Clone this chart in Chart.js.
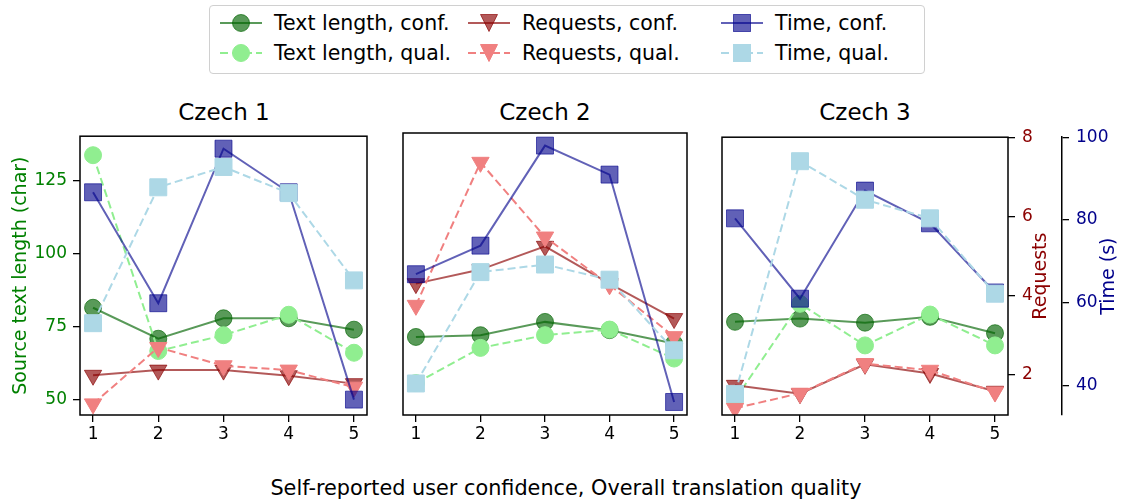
<!DOCTYPE html>
<html>
<head>
<meta charset="utf-8">
<script src="https://cdn.jsdelivr.net/npm/chart.js@4"></script>
<style>
  body { margin: 0; background: #fff; width: 1122px; height: 501px; position: relative; overflow: hidden; font-family: "DejaVu Sans", sans-serif; }
  canvas { position: absolute; }
  .ptitle { position: absolute; top: 98px; width: 288px; text-align: center; font-size: 23px; line-height: 28px; color: #000; }
  #xlabel { position: absolute; left: 0; width: 1132px; top: 476px; text-align: center; font-size: 20.8px; line-height: 24px; color: #000; }
  #legend { position: absolute; left: 209px; top: 5px; width: 714px; height: 67px; border: 1px solid #d0d0d0; border-radius: 4px; }
  #legend span { position: absolute; font-size: 20.5px; line-height: 24px; white-space: nowrap; color: #000; }
  #legend svg { position: absolute; left: 0; top: 0; }
</style>
</head>
<body>
<div id="legend"></div>
<div class="ptitle" style="left:80px">Czech 1</div>
<div class="ptitle" style="left:401px">Czech 2</div>
<div class="ptitle" style="left:721px">Czech 3</div>
<canvas id="c1" width="380" height="340" style="left:0px;top:120px"></canvas>
<canvas id="c2" width="310" height="340" style="left:390px;top:120px"></canvas>
<canvas id="c3" width="422" height="340" style="left:700px;top:120px"></canvas>
<div id="xlabel">Self-reported user confidence, Overall translation quality</div>

<script>
// Data, one row per panel (Czech 1, Czech 2, Czech 3)
const categories = [1, 2, 3, 4, 5];
const textConf = [
  [81.4, 70.8, 77.8, 77.8, 73.9],
  [71.1, 71.7, 76.2, 73.4, 68.9],
  [76.7, 77.8, 76.4, 78.4, 72.8]
];
const textQual = [
  [133.6, 66.6, 72.0, 79.0, 66.0],
  [55.5, 67.4, 71.7, 73.6, 63.8],
  [50.0, 82.9, 68.6, 79.2, 68.6]
];
const requestsConf = [
  [1.98, 2.11, 2.11, 1.97, 1.77],
  [4.25, 4.60, 5.18, 4.25, 3.38],
  [1.73, 1.52, 2.26, 2.03, 1.58]
];
const requestsQual = [
  [1.26, 2.68, 2.22, 2.11, 1.68],
  [3.71, 7.27, 5.41, 4.22, 2.93],
  [1.15, 1.53, 2.28, 2.11, 1.56]
];
const timeConf = [
  [86.5, 59.8, 97.0, 86.5, 36.6],
  [66.4, 73.2, 97.0, 90.1, 36.0],
  [80.4, 61.0, 87.1, 79.2, 62.5]
];
const timeQual = [
  [55.0, 87.7, 92.6, 86.3, 65.3],
  [40.4, 66.9, 68.7, 65.1, 48.3],
  [38.0, 94.2, 84.9, 80.4, 62.2]
];
const textTicks = [50, 75, 100, 125];
const requestTicks = [2, 4, 6, 8];
const timeTicks = [40, 60, 80, 100];
const textRange = [44.7, 140.1];
const requestRange = [0.98, 8.0];
const timeRange = [32.9, 100];

const FAMILY = '"DejaVu Sans", sans-serif';

// Series styles: [label, data, axis, colour, marker, radius, dashed]
const seriesDefs = [
  ['Text length, conf.', textConf, 'yText', 'rgba(0,100,0,0.65)', 'circle', 8.5, false],
  ['Text length, qual.', textQual, 'yText', 'rgb(144,238,144)', 'circle', 8.5, true],
  ['Requests, conf.', requestsConf, 'yReq', 'rgba(139,0,0,0.65)', 'triangle', 10, false],
  ['Requests, qual.', requestsQual, 'yReq', 'rgb(240,128,128)', 'triangle', 10, true],
  ['Time, conf.', timeConf, 'yTime', 'rgba(0,0,139,0.62)', 'rect', 12, false],
  ['Time, qual.', timeQual, 'yTime', 'rgb(173,216,230)', 'rect', 12, true]
];

function makeDatasets(p) {
  return seriesDefs.map((d, i) => ({
    label: d[0],
    yAxisID: d[2],
    data: d[1][p].map((v, k) => ({ x: categories[k], y: v })),
    borderColor: d[3],
    backgroundColor: d[3],
    pointBackgroundColor: d[3],
    pointBorderColor: d[3],
    pointBorderWidth: 1,
    pointStyle: d[4],
    pointRadius: d[5],
    pointHoverRadius: d[5],
    pointRotation: d[4] === 'triangle' ? 180 : 0,
    borderWidth: 2,
    borderDash: d[6] ? [8, 4] : [],
    tension: 0,
    clip: 0,
    order: seriesDefs.length - i
  }));
}

// black box round each plot area
const framePlugin = {
  id: 'frame',
  afterDatasetsDraw(chart) {
    const { ctx, chartArea: a } = chart;
    ctx.save();
    ctx.strokeStyle = '#000';
    ctx.lineWidth = 1.5;
    ctx.strokeRect(a.left, a.top, a.right - a.left, a.bottom - a.top);
    ctx.restore();
  }
};

// right-hand axis titles that read bottom to top
const sideTitlePlugin = {
  id: 'sideTitles',
  afterDraw(chart, args, opts) {
    (opts.items || []).forEach(it => {
      const s = chart.scales[it.scale];
      const a = chart.chartArea;
      const ctx = chart.ctx;
      ctx.save();
      ctx.translate(s.left + it.offset, (a.top + a.bottom) / 2);
      ctx.rotate(-Math.PI / 2);
      ctx.font = '19px ' + FAMILY;
      ctx.fillStyle = it.color;
      ctx.textAlign = 'center';
      ctx.textBaseline = 'middle';
      ctx.fillText(it.text, 0, 0);
      ctx.restore();
    });
  }
};

function tickGrid() {
  return { drawOnChartArea: false, drawTicks: true, tickLength: 7, color: '#000', lineWidth: 1.3 };
}

function makePanel(p, canvasId, padLeft, padRight) {
  const first = p === 0, last = p === 2;
  return new Chart(document.getElementById(canvasId), {
    type: 'line',
    data: { datasets: makeDatasets(p) },
    plugins: [framePlugin, sideTitlePlugin],
    options: {
      responsive: false,
      animation: false,
      devicePixelRatio: 1,
      events: [],
      layout: { padding: { top: 12, left: padLeft, right: padRight, bottom: 0 } },
      plugins: {
        legend: { display: false },
        tooltip: { enabled: false },
        sideTitles: {
          items: last ? [
            { scale: 'yReq', offset: 33, text: 'Requests', color: 'darkred' },
            { scale: 'yTime', offset: 47, text: 'Time (s)', color: 'darkblue' }
          ] : []
        }
      },
      scales: {
        x: {
          type: 'linear', min: 0.8, max: 5.2,
          afterBuildTicks: s => { s.ticks = categories.map(v => ({ value: v })); },
          afterFit: s => { s.height = 45; },
          ticks: { color: '#000', font: { size: 17, family: FAMILY }, padding: 2, maxRotation: 0, autoSkip: false },
          grid: tickGrid(),
          border: { display: false }
        },
        yText: {
          position: 'left', display: first,
          min: textRange[0], max: textRange[1],
          afterBuildTicks: s => { s.ticks = textTicks.map(v => ({ value: v })); },
          afterFit: first ? (s => { s.width = 80; }) : undefined,
          ticks: { color: 'green', font: { size: 17, family: FAMILY }, padding: 6 },
          grid: tickGrid(),
          border: { display: false },
          title: { display: true, text: 'Source text length (char)', color: 'green', font: { size: 19, family: FAMILY }, padding: { top: 10, bottom: 0 } }
        },
        yReq: {
          position: 'right', display: last,
          min: requestRange[0], max: requestRange[1],
          afterBuildTicks: s => { s.ticks = requestTicks.map(v => ({ value: v })); },
          afterFit: last ? (s => { s.width = 54; }) : undefined,
          ticks: { color: 'darkred', font: { size: 17, family: FAMILY }, padding: 7 },
          grid: tickGrid(),
          border: { display: false }
        },
        yTime: {
          position: 'right', display: last,
          min: timeRange[0], max: timeRange[1],
          afterBuildTicks: s => { s.ticks = timeTicks.map(v => ({ value: v })); },
          afterFit: last ? (s => { s.width = 60; }) : undefined,
          ticks: { color: 'darkblue', font: { size: 17, family: FAMILY }, padding: 7 },
          grid: tickGrid(),
          border: { display: true, color: '#000', width: 1.5 }
        }
      }
    }
  });
}

makePanel(0, 'c1', 0, 12);
makePanel(1, 'c2', 12, 10);
makePanel(2, 'c3', 22, 0);

// legend: three columns (text, requests, time), conf on top, qual below
function buildLegend() {
  const box = document.getElementById('legend');
  const colX = [31, 279, 532];   // marker centres inside the box
  const rowY = [17, 47];
  let svg = '<svg width="714" height="67">';
  let html = '';
  seriesDefs.forEach((d, i) => {
    const cx = colX[Math.floor(i / 2)], cy = rowY[i % 2];
    const dash = d[6] ? ' stroke-dasharray="8 4"' : '';
    svg += `<line x1="${cx - 21}" y1="${cy}" x2="${cx + 21}" y2="${cy}" stroke="${d[3]}" stroke-width="2"${dash}/>`;
    if (d[4] === 'circle') {
      svg += `<circle cx="${cx}" cy="${cy}" r="8.5" fill="${d[3]}" stroke="${d[3]}"/>`;
    } else if (d[4] === 'triangle') {
      svg += `<polygon points="${cx - 8.5},${cy - 8.5} ${cx + 8.5},${cy - 8.5} ${cx},${cy + 8.5}" fill="${d[3]}" stroke="${d[3]}"/>`;
    } else {
      svg += `<rect x="${cx - 8.5}" y="${cy - 8.5}" width="17" height="17" fill="${d[3]}" stroke="${d[3]}"/>`;
    }
    html += `<span style="left:${cx + 33}px;top:${cy - 12}px">${d[0]}</span>`;
  });
  svg += '</svg>';
  box.innerHTML = svg + html;
}
buildLegend();
</script>
</body>
</html>
